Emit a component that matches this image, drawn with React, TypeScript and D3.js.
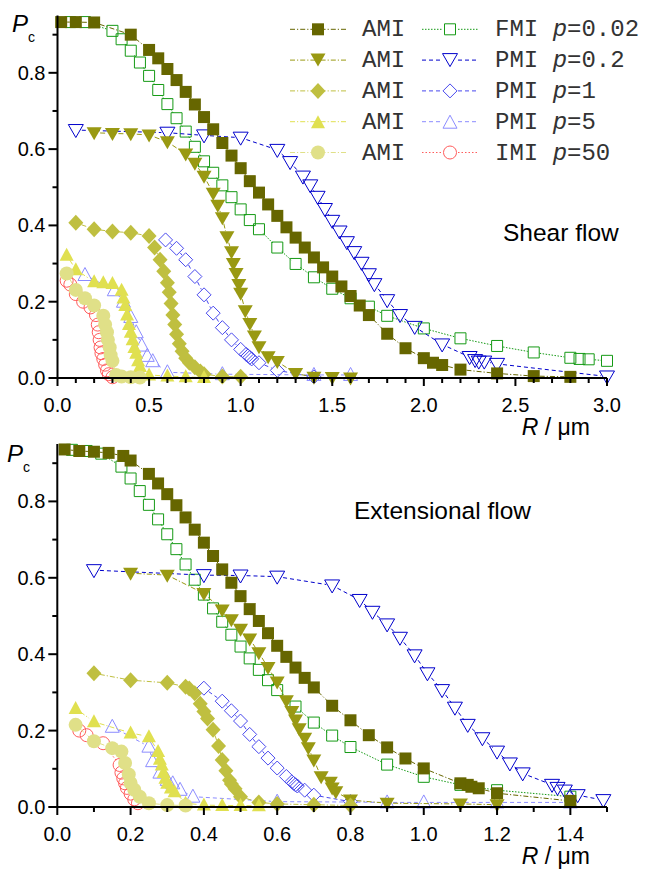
import React from "react";
import * as d3 from "d3";

type Pt = [number, number];

// ---------- Shear flow (top panel) ----------
const shearAmiSq: Pt[] = [[0.02,0.933],[0.1,0.933],[0.2,0.932],[0.4,0.90],[0.5,0.86],[0.55,0.838],[0.6,0.81],[0.65,0.781],[0.7,0.75],[0.75,0.717],[0.8,0.684],[0.85,0.652],[0.9,0.616],[0.95,0.583],[1.0,0.55],[1.05,0.516],[1.1,0.486],[1.15,0.455],[1.2,0.425],[1.25,0.395],[1.3,0.368],[1.35,0.342],[1.4,0.316],[1.45,0.29],[1.5,0.266],[1.55,0.24],[1.6,0.215],[1.65,0.19],[1.7,0.165],[1.8,0.116],[1.9,0.078],[2.0,0.052],[2.05,0.04],[2.1,0.034],[2.2,0.022],[2.4,0.012],[2.6,0.005],[2.8,0.003]];
const shearFmi: Pt[] = [[0.07,0.933],[0.15,0.933],[0.3,0.91],[0.35,0.888],[0.4,0.858],[0.45,0.827],[0.5,0.792],[0.55,0.755],[0.6,0.718],[0.65,0.681],[0.7,0.646],[0.75,0.606],[0.8,0.568],[0.85,0.538],[0.9,0.505],[0.95,0.474],[1.0,0.442],[1.05,0.414],[1.1,0.39],[1.2,0.342],[1.3,0.299],[1.4,0.264],[1.5,0.234],[1.6,0.209],[1.7,0.187],[1.8,0.163],[2.0,0.13],[2.2,0.104],[2.4,0.084],[2.6,0.067],[2.8,0.053],[2.85,0.05],[2.9,0.049],[3.0,0.045]];
const shearAmiTri: Pt[] = [[0.2,0.643],[0.3,0.641],[0.4,0.64],[0.5,0.637],[0.6,0.619],[0.7,0.587],[0.75,0.563],[0.8,0.529],[0.85,0.484],[0.875,0.453],[0.9,0.42],[0.925,0.37],[0.95,0.331],[0.96,0.3],[0.975,0.274],[0.99,0.245],[1.0,0.222],[1.025,0.176],[1.05,0.143],[1.075,0.11],[1.1,0.082],[1.15,0.056],[1.2,0.043],[1.3,0.012],[1.4,0.002],[1.5,0.001],[1.6,0.0]];
const shearPmi02: Pt[] = [[0.1,0.65],[0.6,0.643],[0.8,0.636],[1.0,0.63],[1.2,0.598],[1.27,0.566],[1.34,0.528],[1.38,0.505],[1.42,0.475],[1.46,0.443],[1.5,0.412],[1.54,0.384],[1.58,0.356],[1.62,0.33],[1.66,0.302],[1.7,0.272],[1.73,0.246],[1.8,0.204],[1.87,0.165],[1.95,0.134],[2.1,0.088],[2.25,0.055],[2.28,0.047],[2.3,0.043],[2.33,0.043],[2.4,0.037],[3.0,0.004]];
const shearAmiDia: Pt[] = [[0.1,0.407],[0.2,0.39],[0.3,0.384],[0.4,0.381],[0.5,0.372],[0.53,0.342],[0.56,0.31],[0.58,0.28],[0.6,0.25],[0.61,0.225],[0.62,0.195],[0.63,0.165],[0.64,0.14],[0.65,0.115],[0.665,0.09],[0.68,0.07],[0.7,0.052],[0.72,0.04],[0.75,0.028],[0.78,0.017],[0.8,0.01],[0.9,0.004],[1.0,0.003]];
const shearPmi1: Pt[] = [[0.59,0.362],[0.65,0.34],[0.7,0.31],[0.75,0.266],[0.8,0.218],[0.85,0.17],[0.9,0.132],[0.95,0.1],[1.0,0.075],[1.03,0.062],[1.04,0.058],[1.05,0.054],[1.06,0.05],[1.1,0.04],[1.2,0.02],[1.4,0.003]];
const shearAmiUp: Pt[] = [[0.05,0.322],[0.1,0.284],[0.2,0.252],[0.25,0.25],[0.3,0.248],[0.35,0.23],[0.36,0.21],[0.37,0.19],[0.38,0.165],[0.39,0.14],[0.4,0.12],[0.41,0.1],[0.42,0.08],[0.43,0.065],[0.44,0.045],[0.45,0.03],[0.5,0.008],[0.6,0.005],[0.7,0.003],[0.8,0.001]];
const shearPmi5: Pt[] = [[0.15,0.27],[0.31,0.23],[0.36,0.2],[0.4,0.16],[0.43,0.12],[0.46,0.085],[0.49,0.058],[0.52,0.044],[0.6,0.015],[0.9,0.01],[1.4,0.008],[1.6,0.008]];
const shearAmiCir: Pt[] = [[0.05,0.274],[0.1,0.231],[0.15,0.209],[0.2,0.19],[0.25,0.163],[0.26,0.14],[0.27,0.12],[0.275,0.1],[0.285,0.08],[0.29,0.06],[0.3,0.045],[0.32,0.008],[0.35,0.004],[0.4,0.002],[0.45,0.001]];
const shearImi: Pt[] = [[0.05,0.255],[0.07,0.245],[0.1,0.22],[0.14,0.2],[0.18,0.185],[0.21,0.165],[0.22,0.14],[0.225,0.12],[0.23,0.1],[0.235,0.08],[0.24,0.065],[0.25,0.05],[0.26,0.035],[0.27,0.02],[0.28,0.01],[0.3,0.002]];

// ---------- Extensional flow (bottom panel) ----------
const extAmiSq: Pt[] = [[0.02,0.936],[0.06,0.932],[0.1,0.93],[0.14,0.927],[0.18,0.919],[0.2,0.907],[0.25,0.872],[0.275,0.847],[0.3,0.819],[0.325,0.79],[0.35,0.758],[0.375,0.726],[0.4,0.692],[0.425,0.657],[0.45,0.622],[0.475,0.587],[0.5,0.552],[0.525,0.518],[0.55,0.487],[0.575,0.455],[0.6,0.422],[0.625,0.393],[0.65,0.365],[0.675,0.338],[0.7,0.313],[0.75,0.265],[0.8,0.227],[0.85,0.188],[0.9,0.156],[0.95,0.127],[1.0,0.101],[1.1,0.062],[1.12,0.058],[1.13,0.053],[1.15,0.049],[1.2,0.036],[1.4,0.016]];
const extFmi: Pt[] = [[0.04,0.935],[0.08,0.932],[0.12,0.925],[0.175,0.891],[0.2,0.86],[0.225,0.827],[0.25,0.791],[0.275,0.753],[0.3,0.714],[0.325,0.675],[0.35,0.635],[0.375,0.595],[0.4,0.556],[0.425,0.52],[0.45,0.485],[0.475,0.451],[0.5,0.42],[0.525,0.389],[0.55,0.359],[0.575,0.332],[0.6,0.306],[0.65,0.263],[0.7,0.221],[0.75,0.187],[0.8,0.157],[0.9,0.111],[1.0,0.079],[1.1,0.058],[1.2,0.044],[1.4,0.027]];
const extAmiTri: Pt[] = [[0.2,0.612],[0.3,0.607],[0.4,0.559],[0.45,0.516],[0.475,0.49],[0.5,0.465],[0.525,0.44],[0.55,0.404],[0.575,0.365],[0.6,0.327],[0.625,0.278],[0.64,0.25],[0.65,0.228],[0.66,0.205],[0.675,0.18],[0.685,0.155],[0.7,0.123],[0.72,0.079],[0.745,0.065],[0.75,0.05],[0.76,0.04],[0.8,0.018],[0.9,0.01],[1.1,0.008],[1.2,0.006]];
const extPmi02: Pt[] = [[0.1,0.62],[0.4,0.607],[0.5,0.606],[0.6,0.603],[0.75,0.58],[0.825,0.542],[0.86,0.511],[0.9,0.478],[0.935,0.443],[0.975,0.397],[1.01,0.35],[1.05,0.306],[1.085,0.26],[1.12,0.215],[1.16,0.18],[1.2,0.145],[1.235,0.114],[1.27,0.088],[1.35,0.058],[1.365,0.05],[1.385,0.043],[1.42,0.031],[1.49,0.018]];
const extAmiDia: Pt[] = [[0.1,0.35],[0.2,0.332],[0.3,0.325],[0.35,0.315],[0.36,0.31],[0.375,0.298],[0.39,0.27],[0.4,0.25],[0.41,0.232],[0.425,0.202],[0.44,0.16],[0.45,0.123],[0.46,0.095],[0.47,0.07],[0.475,0.06],[0.485,0.048],[0.5,0.027],[0.55,0.012],[0.6,0.008],[0.7,0.006],[0.8,0.004]];
const extPmi1: Pt[] = [[0.4,0.311],[0.45,0.277],[0.475,0.252],[0.5,0.225],[0.525,0.19],[0.55,0.158],[0.575,0.128],[0.6,0.102],[0.625,0.08],[0.64,0.066],[0.645,0.062],[0.65,0.058],[0.655,0.055],[0.675,0.044],[0.7,0.031],[0.8,0.014]];
const extAmiUp: Pt[] = [[0.05,0.258],[0.1,0.223],[0.2,0.194],[0.25,0.184],[0.275,0.145],[0.28,0.125],[0.285,0.11],[0.29,0.09],[0.295,0.075],[0.3,0.062],[0.31,0.05],[0.32,0.04],[0.35,0.01],[0.4,0.005],[0.45,0.004],[0.5,0.004],[0.55,0.003]];
const extPmi5: Pt[] = [[0.15,0.21],[0.25,0.158],[0.26,0.12],[0.28,0.09],[0.3,0.071],[0.315,0.062],[0.335,0.045],[0.37,0.027],[0.6,0.014],[0.8,0.013],[0.9,0.012],[1.0,0.012],[1.2,0.012],[1.4,0.012]];
const extAmiCir: Pt[] = [[0.05,0.215],[0.1,0.172],[0.15,0.154],[0.175,0.145],[0.185,0.115],[0.195,0.085],[0.2,0.063],[0.21,0.045],[0.225,0.027],[0.25,0.01],[0.3,0.005],[0.35,0.004]];
const extImi: Pt[] = [[0.06,0.2],[0.08,0.188],[0.125,0.167],[0.17,0.11],[0.175,0.09],[0.18,0.075],[0.185,0.062],[0.19,0.05],[0.2,0.035],[0.21,0.02],[0.22,0.01]];

// ---------- ticks & labels ----------
const shearXMajor = [0, 0.5, 1.0, 1.5, 2.0, 2.5, 3.0];
const extXMajor = [0, 0.2, 0.4, 0.6, 0.8, 1.0, 1.2, 1.4];
const yMajor = [0, 0.2, 0.4, 0.6, 0.8];
const yMinor = [0.1, 0.3, 0.5, 0.7, 0.9];
const legendLeft = ["AMI", "AMI", "AMI", "AMI", "AMI"];
const legendRightName = ["FMI", "PMI", "PMI", "PMI", "IMI"];
const legendRightP = ["0.02", "0.2", "1", "5", "50"];

type Kind = "square" | "down" | "diamond" | "up" | "circle";
interface Style { kind: Kind; color: string; filled: boolean; dash: string; }

const S_AMI_SQ: Style = { kind: "square", color: "#666600", filled: true, dash: "5,2,1.2,2" };
const S_AMI_TRI: Style = { kind: "down", color: "#999912", filled: true, dash: "5,2,1.2,2" };
const S_AMI_DIA: Style = { kind: "diamond", color: "#bfbf40", filled: true, dash: "5,2,1.2,2" };
const S_AMI_UP: Style = { kind: "up", color: "#e0e050", filled: true, dash: "5,2,1.2,2" };
const S_AMI_CIR: Style = { kind: "circle", color: "#e0e088", filled: true, dash: "5,2,1.2,2" };
const S_FMI: Style = { kind: "square", color: "#159a15", filled: false, dash: "1.5,1.5" };
const S_PMI02: Style = { kind: "down", color: "#0000cc", filled: false, dash: "4,3" };
const S_PMI1: Style = { kind: "diamond", color: "#4848ee", filled: false, dash: "4,3" };
const S_PMI5: Style = { kind: "up", color: "#8c8cff", filled: false, dash: "4,3" };
const S_IMI: Style = { kind: "circle", color: "#ff5c5c", filled: false, dash: "1.5,2" };

function markerPath(kind: Kind, filled: boolean): string {
  switch (kind) {
    case "square": return filled ? "M-6,-6H6V6H-6Z" : "M-5.5,-5.5H5.5V5.5H-5.5Z";
    case "down": return filled ? "M-7.5,-5.5L7.5,-5.5L0,7.5Z" : "M-7.5,-5.5L7.5,-5.5L0,7.5Z";
    case "up": return filled ? "M-7,5.5L7,5.5L0,-7.5Z" : "M-7,5.5L7,5.5L0,-7.5Z";
    case "diamond": return filled ? "M0,-8L7.5,0L0,8L-7.5,0Z" : "M0,-7L7,0L0,7L-7,0Z";
    default: return "";
  }
}

function Marker({ x, y, st }: { x: number; y: number; st: Style }) {
  if (st.kind === "circle") {
    return st.filled
      ? <circle cx={x} cy={y} r={7} fill={st.color} />
      : <circle cx={x} cy={y} r={6.5} fill="none" stroke={st.color} strokeWidth={1} />;
  }
  return st.filled
    ? <path transform={`translate(${x},${y})`} d={markerPath(st.kind, true)} fill={st.color} />
    : <path transform={`translate(${x},${y})`} d={markerPath(st.kind, false)} fill="none" stroke={st.color} strokeWidth={1} />;
}

const GAP = 6;

function Series({ data, st, x, y }: { data: Pt[]; st: Style; x: d3.ScaleLinear<number, number>; y: d3.ScaleLinear<number, number> }) {
  const px = data.map(d => [x(d[0]), y(d[1])] as [number, number]);
  const segs: string[] = [];
  for (let i = 0; i < px.length - 1; i++) {
    const [x1, y1] = px[i];
    const [x2, y2] = px[i + 1];
    const dx = x2 - x1, dy = y2 - y1;
    const len = Math.hypot(dx, dy);
    if (len <= 2 * GAP + 1) continue;
    const ux = dx / len, uy = dy / len;
    const p = d3.path();
    p.moveTo(x1 + ux * GAP, y1 + uy * GAP);
    p.lineTo(x2 - ux * GAP, y2 - uy * GAP);
    segs.push(p.toString());
  }
  return (
    <g>
      <path d={segs.join("")} fill="none" stroke={st.color} strokeWidth={1} strokeDasharray={st.dash} />
      {px.map((d, i) => <Marker key={i} x={d[0]} y={d[1]} st={st} />)}
    </g>
  );
}

const FONT = "'Liberation Sans', Arial, sans-serif";

function Panel({ x, y, xMajor, xMax, series, pc, labelY }: any) {
  const xMinor = d3.range(0, Math.round(xMax * 10) + 1).map(i => i / 10);
  const y0 = y(0);
  const x0 = x(0);
  return (
    <g>
      {series.map((s: any, i: number) => <Series key={i} data={s.data} st={s.st} x={x} y={y} />)}
      <line x1={x0} x2={x(xMax)} y1={y0} y2={y0} stroke="#000" strokeWidth={2} />
      <line x1={x0} x2={x0} y1={y0 + 1} y2={y(0.95)} stroke="#000" strokeWidth={2} />
      {xMinor.map((v: number, i: number) => {
        const major = xMajor.some((m: number) => Math.abs(m - v) < 1e-6);
        return <line key={i} x1={x(v)} x2={x(v)} y1={y0} y2={y0 + (major ? 8 : 5)} stroke="#000" strokeWidth={2} />;
      })}
      {xMajor.map((v: number, i: number) => (
        <text key={i} x={x(v)} y={y0 + 34} textAnchor="middle" fontFamily={FONT} fontSize={20} fill="#000">{v.toFixed(1)}</text>
      ))}
      {yMajor.map((v, i) => (
        <g key={i}>
          <line x1={x0 - 9} x2={x0} y1={y(v)} y2={y(v)} stroke="#000" strokeWidth={2} />
          <text x={x0 - 12} y={y(v) + 7} textAnchor="end" fontFamily={FONT} fontSize={20} fill="#000">{v.toFixed(1)}</text>
        </g>
      ))}
      {yMinor.map((v, i) => <line key={i} x1={x0 - 5} x2={x0} y1={y(v)} y2={y(v)} stroke="#000" strokeWidth={2} />)}
      <text x={590} y={y0 + 57} textAnchor="end" fontFamily={FONT} fontSize={23} fill="#000">
        <tspan fontStyle="italic">R</tspan> / μm
      </text>
      <text x={pc[0]} y={pc[1]} fontFamily={FONT} fontSize={24} fontStyle="italic" fill="#000">P</text>
      <text x={pc[0] + 16} y={pc[1] + 10} fontFamily={FONT} fontSize={14} fill="#000">c</text>
      {labelY}
    </g>
  );
}

export default function App() {
  const xTop = d3.scaleLinear().domain([0, 3]).range([57.5, 607]);
  const yTop = d3.scaleLinear().domain([0, 0.95]).range([378, 15.6]);
  const xBot = d3.scaleLinear().domain([0, 1.5]).range([57.3, 607]);
  const yBot = d3.scaleLinear().domain([0, 0.95]).range([807, 444.1]);

  const topSeries = [
    { data: shearFmi, st: S_FMI }, { data: shearPmi02, st: S_PMI02 }, { data: shearPmi1, st: S_PMI1 },
    { data: shearPmi5, st: S_PMI5 }, { data: shearImi, st: S_IMI },
    { data: shearAmiSq, st: S_AMI_SQ }, { data: shearAmiTri, st: S_AMI_TRI }, { data: shearAmiDia, st: S_AMI_DIA },
    { data: shearAmiUp, st: S_AMI_UP }, { data: shearAmiCir, st: S_AMI_CIR },
  ];
  const botSeries = [
    { data: extFmi, st: S_FMI }, { data: extPmi02, st: S_PMI02 }, { data: extPmi1, st: S_PMI1 },
    { data: extPmi5, st: S_PMI5 }, { data: extImi, st: S_IMI },
    { data: extAmiSq, st: S_AMI_SQ }, { data: extAmiTri, st: S_AMI_TRI }, { data: extAmiDia, st: S_AMI_DIA },
    { data: extAmiUp, st: S_AMI_UP }, { data: extAmiCir, st: S_AMI_CIR },
  ];

  const leftStyles = [S_AMI_SQ, S_AMI_TRI, S_AMI_DIA, S_AMI_UP, S_AMI_CIR];
  const rightStyles = [S_FMI, S_PMI02, S_PMI1, S_PMI5, S_IMI];
  const rowY = (i: number) => 29.3 + i * 30.8;
  const MONO = "'Liberation Mono', 'Courier New', monospace";

  return (
    <div style={{ position: "absolute", left: 0, top: 0 }}>
      <svg width={647} height={872} style={{ display: "block", background: "#fff" }}>
        <rect width={647} height={872} fill="#fff" />
        <Panel x={xTop} y={yTop} xMajor={shearXMajor} xMax={3} series={topSeries} pc={[12, 32]}
          labelY={<text x={503} y={241} fontFamily={FONT} fontSize={24.5} fill="#000">Shear flow</text>} />
        <Panel x={xBot} y={yBot} xMajor={extXMajor} xMax={1.5} series={botSeries} pc={[7, 462]}
          labelY={<text x={354} y={519} fontFamily={FONT} fontSize={24.5} fill="#000">Extensional flow</text>} />
        <g>
          {leftStyles.map((st, i) => (
            <g key={"l" + i}>
              <line x1={290} x2={346} y1={rowY(i)} y2={rowY(i)} stroke={st.color} strokeWidth={1} strokeDasharray={st.dash} />
              <Marker x={318} y={rowY(i) + (st.kind === "down" ? -1 : st.kind === "up" ? 1 : 0)} st={st} />
              <text x={362} y={rowY(i) + 7} fontFamily={MONO} fontSize={24} fill="#333">{legendLeft[i]}</text>
            </g>
          ))}
          {rightStyles.map((st, i) => (
            <g key={"r" + i}>
              <line x1={422} x2={442} y1={rowY(i)} y2={rowY(i)} stroke={st.color} strokeWidth={1} strokeDasharray={st.dash} />
              <line x1={458} x2={478} y1={rowY(i)} y2={rowY(i)} stroke={st.color} strokeWidth={1} strokeDasharray={st.dash} />
              <Marker x={450} y={rowY(i) + (st.kind === "down" ? -1 : st.kind === "up" ? 1 : 0)} st={st} />
              <text x={495} y={rowY(i) + 7} fontFamily={MONO} fontSize={24} fill="#333">
                {legendRightName[i]} <tspan fontStyle="italic">p</tspan>={legendRightP[i]}
              </text>
            </g>
          ))}
        </g>
      </svg>
    </div>
  );
}
